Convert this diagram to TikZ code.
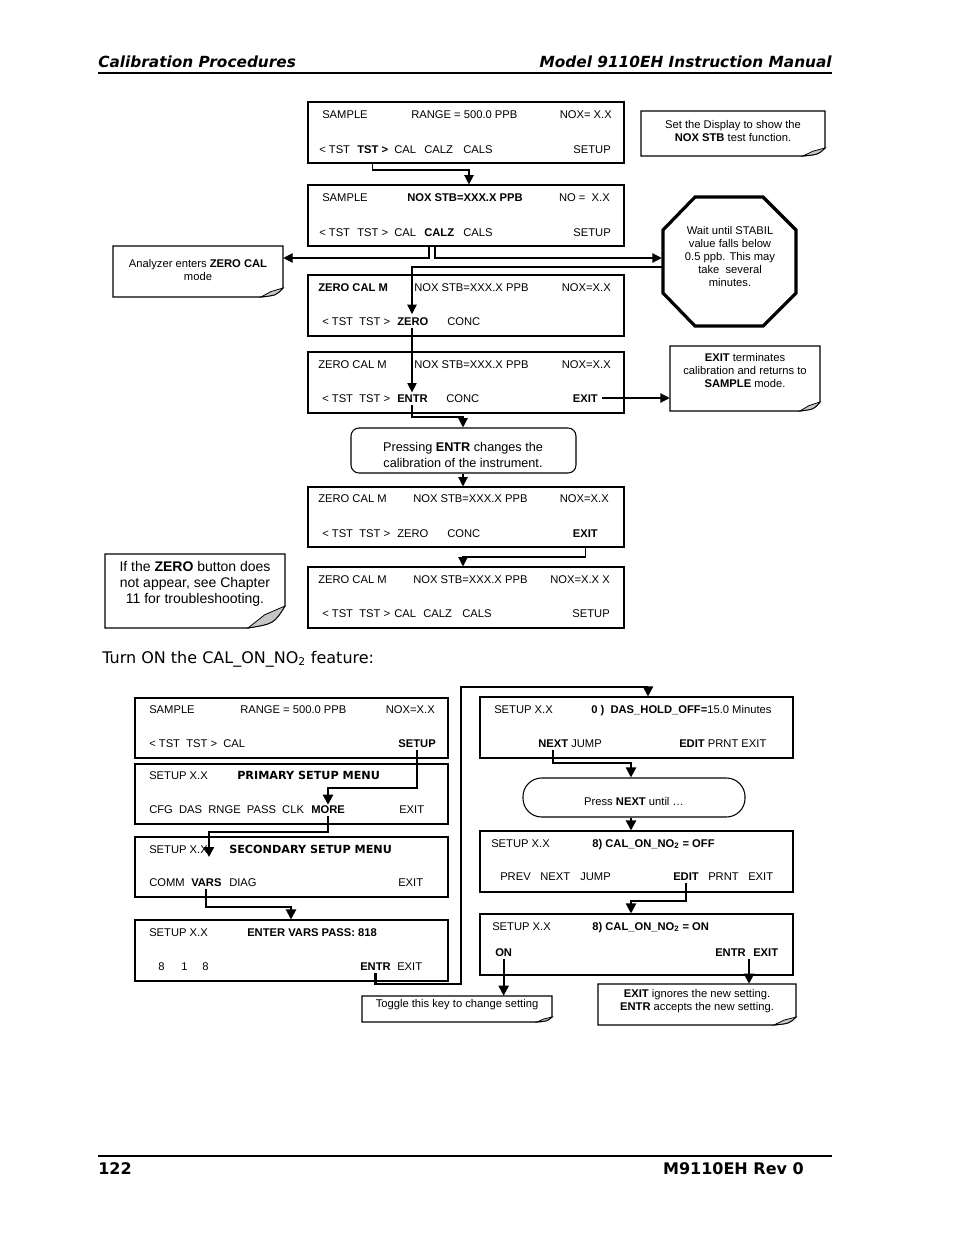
\documentclass[tikz,border=0pt]{standalone}
\usepackage{fontspec}
\setmainfont{Liberation Sans}
\newfontfamily\verd{DejaVu Sans}
\usetikzlibrary{arrows.meta,fit}
\newcommand\dsz{\fontsize{8.4}{10}\selectfont}
\newcommand\Lw[4]{\node[lbl] (#1) at (#2,#3) {#4};}
\newcommand\Rw[4]{\node[rlbl] (#1) at (#2,#3) {#4};}
% note box with curled corner: name x0 y0 x1 y1 w h
\newcommand\notebox[7]{%
  \draw[line width=0.8pt,fill=white] (#2,#3) -- (#4,#3) -- (#4,#5-#7) .. controls (#4-0.3*#6,#5-0.2*#7) .. (#4-#6,#5) -- (#2,#5) -- cycle;
  \filldraw[line width=0.6pt,fill=gray!45] (#4,#5-#7) -- (#4-0.55*#6,#5-0.6*#7) -- (#4-#6,#5) .. controls (#4-0.3*#6,#5-0.2*#7) .. (#4,#5-#7) -- cycle;
  \node[inner sep=0pt,fit={(#2,#3)(#4,#5)}] (#1) {};}
\begin{document}
\begin{tikzpicture}[x=0.75pt,y=-0.75pt,
  lbl/.style={anchor=west,inner sep=0pt,font=\dsz,text height=6pt,text depth=0pt},
  rlbl/.style={lbl,anchor=east},
  panel/.style={draw,inner sep=0pt,line width=0.8pt},
  conn/.style={line width=0.9pt,-{Triangle[length=7pt,width=7pt]}},
  connb/.style={line width=1.6pt,-{Triangle[length=7.5pt,width=7.5pt]}},
  ntext/.style={align=center,inner sep=0pt,font=\fontsize{8.4}{9.75}\selectfont}]
\fill[white] (0,0) rectangle (954,1235);
\useasboundingbox (0,0) rectangle (954,1235);

% header / footer
\node[anchor=base west,inner sep=0pt,font=\verd\bfseries\itshape\fontsize{11.5}{14}\selectfont] (hd1) at (98,67.5) {Calibration Procedures};
\node[anchor=base east,inner sep=0pt,font=\verd\bfseries\itshape\fontsize{11.5}{14}\selectfont] (hd2) at (832,67.5) {Model 9110EH Instruction Manual};
\draw[line width=0.8pt] (98,73) -- (832,73);
\draw[line width=0.8pt] (98,1156) -- (832,1156);
\node[anchor=base west,inner sep=0pt,font=\verd\bfseries\fontsize{12}{14}\selectfont] (ft1) at (98,1174) {122};
\node[anchor=base east,inner sep=0pt,font=\verd\bfseries\fontsize{12}{14}\selectfont] (ft2) at (804,1174) {M9110EH Rev 0};
\node[anchor=base west,inner sep=0pt,font=\verd\fontsize{12}{14}\selectfont] (turn) at (102,663) {Turn ON the CAL\_ON\_NO\textsubscript{2} feature:};

% ---------- top section ----------
\node[panel,fit={(308,102)(624,163)}] (d1) {};
\Lw{d1a}{322}{114}{SAMPLE} \Lw{d1b}{411}{114}{RANGE = 500.0 PPB} \Rw{d1c}{612}{114}{NOX= X.X}
\Lw{d1d}{319}{149}{< TST} \Lw{d1tst}{357}{149}{\textbf{TST >}} \Lw{d1e}{394}{149}{CAL} \Lw{d1f}{424}{149}{CALZ} \Lw{d1g}{463}{149}{CALS} \Rw{d1h}{611}{149}{SETUP}

\node[panel,fit={(308,185)(624,246)}] (d2) {};
\Lw{d2a}{322}{197}{SAMPLE} \Lw{d2b}{407}{197}{\textbf{NOX STB=XXX.X PPB}} \Rw{d2c}{610}{197}{NO =~~X.X}
\Lw{d2d}{319}{232}{< TST} \Lw{d2e}{357}{232}{TST >} \Lw{d2f}{394}{232}{CAL} \Lw{d2calz}{424}{232}{\textbf{CALZ}} \Lw{d2g}{463}{232}{CALS} \Rw{d2h}{611}{232}{SETUP}

\node[panel,fit={(308,275)(624,336)}] (d3) {};
\Lw{d3a}{318}{287}{\textbf{ZERO CAL M}} \Lw{d3b}{414}{287}{NOX STB=XXX.X PPB} \Rw{d3c}{611}{287}{NOX=X.X}
\Lw{d3d}{322}{321}{< TST~~TST >} \Lw{d3zero}{397}{321}{\textbf{ZERO}} \Lw{d3e}{447}{321}{CONC}

\node[panel,fit={(308,352)(624,413)}] (d4) {};
\Lw{d4a}{318}{364}{ZERO CAL M} \Lw{d4b}{414}{364}{NOX STB=XXX.X PPB} \Rw{d4c}{611}{364}{NOX=X.X}
\Lw{d4d}{322}{398}{< TST~~TST >} \Lw{d4entr}{397}{398}{\textbf{ENTR}} \Lw{d4e}{446}{398}{CONC} \Rw{d4exit}{598}{398}{\textbf{EXIT}}

\node[panel,fit={(308,487)(624,547)}] (d5) {};
\Lw{d5a}{318}{498}{ZERO CAL M} \Lw{d5b}{413}{498}{NOX STB=XXX.X PPB} \Rw{d5c}{609}{498}{NOX=X.X}
\Lw{d5d}{322}{533}{< TST~~TST >} \Lw{d5e}{397}{533}{ZERO} \Lw{d5f}{447}{533}{CONC} \Rw{d5exit}{598}{533}{\textbf{EXIT}}

\node[panel,fit={(308,567)(624,628)}] (d6) {};
\Lw{d6a}{318}{579}{ZERO CAL M} \Lw{d6b}{413}{579}{NOX STB=XXX.X PPB} \Rw{d6c}{610}{579}{NOX=X.X X}
\Lw{d6d}{322}{613}{< TST~~TST >} \Lw{d6e}{394}{613}{CAL} \Lw{d6f}{423}{613}{CALZ} \Lw{d6g}{462}{613}{CALS} \Rw{d6h}{610}{613}{SETUP}

% notes (top)
\notebox{n1}{641}{111}{825}{156}{22}{8}
\node[ntext] (n1t) at (733,130.5) {Set the Display to show the\\\textbf{NOX STB} test function.};
\notebox{n2}{113}{246}{283}{297}{22}{9}
\node[ntext] (n2t) at (198,269.5) {Analyzer enters \textbf{ZERO CAL}\\mode};
\notebox{n3}{670}{346}{820}{411}{20}{9}
\node[ntext,font=\fontsize{8.4}{10}\selectfont] (n3t) at (745,370.5) {\textbf{EXIT} terminates\\calibration and returns to\\\textbf{SAMPLE} mode.};
\notebox{n4}{105}{554}{285}{628}{37}{22}
\node[ntext,font=\fontsize{10.5}{12}\selectfont] (n4t) at (195,584) {If the \textbf{ZERO} button does\\not appear, see Chapter\\11 for troubleshooting.};

% octagon
\draw[line width=2.4pt] (695,197) -- (763,197) -- (796,230) -- (796,293) -- (763,326) -- (695,326) -- (663,293) -- (663,230) -- cycle;
\node[inner sep=0pt,fit={(662,197)(796,326)}] (oct) {};
\node[ntext] (octt) at (730,256) {Wait until STABIL\\value falls below\\0.5 ppb. This may\\take~ several\\minutes.};

% pressing box
\node[draw,rounded corners=6pt,line width=0.8pt,inner sep=0pt,fit={(351,428)(576,473)}] (pr) {};
\node[ntext,font=\fontsize{9.5}{12}\selectfont] (prt) at (463,455) {Pressing \textbf{ENTR} changes the\\calibration of the instrument.};

% connectors (top)
\coordinate (k1) at (469,170);
\draw[conn] (d1.south -| d1tst) |- (k1) -- (k1 |- d2.north);
\coordinate (k2) at (429,258);
\draw[conn] (d2.south -| k2) -- (k2) -- (k2 -| n2.east);
\coordinate (k3) at (435,258);
\draw[conn] (d2.south -| k3) -- (k3) -- (k3 -| oct.west);
\coordinate (k4) at (412,267);
\draw[conn] (k4 -| oct.west) -- (k4) -- ([yshift=2pt]k4 |- d3zero.north);
\draw[conn] ([yshift=-2pt]d3zero.south -| k4) -- ([yshift=1pt]k4 |- d4entr.north);
\coordinate (k6) at (463,417);
\draw[conn] ([yshift=-2pt]d4entr.south -| k4) |- (k6) -- (k6 |- pr.north);
\draw[conn] ([xshift=3pt]d4exit.east) -- (d4exit.east -| n3.west);
\draw[conn] (pr.south -| k6) -- (k6 |- d5.north);
\coordinate (k9) at (463,557);
\draw[conn] (d5.south -| d5exit) |- (k9) -- (k9 |- d6.north);

% ---------- bottom section ----------
\node[panel,fit={(135,698)(448,758)}] (b1) {};
\Lw{b1a}{149}{709}{SAMPLE} \Lw{b1b}{240}{709}{RANGE = 500.0 PPB} \Rw{b1c}{435}{709}{NOX=X.X}
\Lw{b1d}{149}{743}{< TST~~TST >~~CAL} \Rw{b1setup}{436}{743}{\textbf{SETUP}}

\node[panel,fit={(135,764)(448,824)}] (b2) {};
\Lw{b2a}{149}{775}{SETUP X.X} \Lw{b2b}{237}{775}{\verd\bfseries PRIMARY SETUP MENU}
\Lw{b2c}{149}{809}{CFG~~DAS~~RNGE~~PASS~~CLK} \Lw{b2more}{311}{809}{\textbf{MORE}} \Lw{b2d}{399}{809}{EXIT}

\node[panel,fit={(135,837)(448,897)}] (b3) {};
\Lw{b3a}{149}{849}{SETUP X.X} \Lw{b3b}{229}{849}{\verd\bfseries SECONDARY SETUP MENU}
\Lw{b3c}{149}{882}{COMM} \Lw{b3vars}{191}{882}{\textbf{VARS}} \Lw{b3d}{229}{882}{DIAG} \Lw{b3e}{398}{882}{EXIT}

\node[panel,fit={(135,920)(448,981)}] (b4) {};
\Lw{b4a}{149}{932}{SETUP X.X} \Lw{b4b}{247}{932}{\textbf{ENTER VARS PASS: 818}}
\Lw{b4c}{158}{966}{8} \Lw{b4d}{181}{966}{1} \Lw{b4e}{202}{966}{8} \Lw{b4entr}{360}{966}{\textbf{ENTR}} \Lw{b4f}{397}{966}{EXIT}

\node[panel,fit={(480,697)(793,758)}] (r1) {};
\Lw{r1a}{494}{709}{SETUP X.X} \Lw{r1b}{591}{709}{\textbf{0 )~~DAS\_HOLD\_OFF=}15.0 Minutes}
\Lw{r1next}{538}{743}{\textbf{NEXT}} \Lw{r1c}{571}{743}{JUMP} \Lw{r1edit}{679}{743}{\textbf{EDIT} PRNT EXIT}

\node[draw,rounded corners=14pt,line width=0.8pt,inner sep=0pt,fit={(523,778)(745,817)}] (pn) {};
\node[lbl,anchor=center] (pnt) at (634,801) {Press \textbf{NEXT} until …};

\node[panel,fit={(480,831)(793,892)}] (r2) {};
\Lw{r2a}{491}{843}{SETUP X.X} \Lw{r2b}{592}{843}{\textbf{8) CAL\_ON\_NO\textsubscript{2} = OFF}}
\Lw{r2c}{500}{876}{PREV} \Lw{r2d}{540}{876}{NEXT} \Lw{r2e}{580}{876}{JUMP} \Lw{r2edit}{673}{876}{\textbf{EDIT}} \Lw{r2f}{708}{876}{PRNT} \Lw{r2g}{748}{876}{EXIT}

\node[panel,fit={(480,914)(793,975)}] (r3) {};
\Lw{r3a}{492}{926}{SETUP X.X} \Lw{r3b}{592}{926}{\textbf{8) CAL\_ON\_NO\textsubscript{2} = ON}}
\Lw{r3on}{495}{952}{\textbf{ON}} \Lw{r3entr}{715}{952}{\textbf{ENTR}} \Lw{r3exit}{753}{952}{\textbf{EXIT}}

\notebox{n5}{362}{996}{552}{1022}{15}{5}
\node[ntext] (n5t) at (457,1005) {Toggle this key to change setting};
\notebox{n6}{598}{984}{796}{1025}{22}{8}
\node[ntext] (n6t) at (697,1001.5) {\textbf{EXIT} ignores the new setting.\\\textbf{ENTR} accepts the new setting.};

% connectors (bottom)
\coordinate (m1) at (328,788);
\draw[connb] ([yshift=-2pt]b1setup.south) |- (m1) -- (m1 |- b2more.north);
\coordinate (m2) at (209,832);
\coordinate (m2e) at (209,857);
\draw[connb] ([yshift=-2pt]b2more.south -| m1) |- (m2) -- (m2e);
\coordinate (m3) at (291,907);
\draw[connb] ([yshift=-2pt]b3vars.south) |- (m3) -- (m3 |- b4.north);
\coordinate (m4a) at (461,984);
\coordinate (m4b) at (648,687);
\draw[connb] ([yshift=-2pt]b4entr.south) |- (m4a) |- (m4b) -- (m4b |- r1.north);
\coordinate (m5) at (631,763);
\draw[connb] ([yshift=-2pt]r1next.south) |- (m5) -- (m5 |- pn.north);
\draw[connb] (pn.south -| m5) -- (m5 |- r2.north);
\coordinate (m7) at (631,901);
\draw[connb] ([yshift=-2pt]r2edit.south) |- (m7) -- (m7 |- r3.north);
\draw[connb] ([yshift=-2pt]r3on.south) -- (r3on.south |- n5.north);
\coordinate (m9) at (749,959);
\draw[connb] (m9) -- (m9 |- n6.north);
\end{tikzpicture}
\end{document}
